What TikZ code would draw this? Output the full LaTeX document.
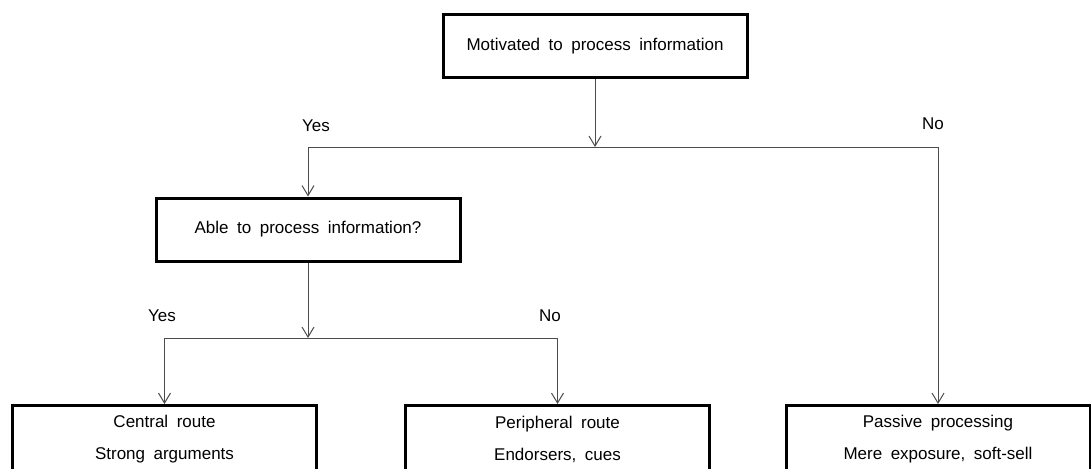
\documentclass[tikz,border=0pt]{standalone}
\usepackage{fontspec}
\setmainfont{Liberation Sans}[WordSpace=1.8]
\usetikzlibrary{arrows.meta}

\begin{document}
\begin{tikzpicture}[x=1pt,y=-1pt]
\tikzstyle{every node}+=[font=\fontsize{17}{32}\selectfont]
\tikzstyle{box}=[draw, line width=3pt, minimum width=304pt, minimum height=63pt, align=center, inner sep=0pt]
\tikzstyle{link}=[draw=black!70, line width=1pt]
\tikzstyle{tip}=[-{Straight Barb[length=10pt,width=12pt]}]
\useasboundingbox (0,0) rectangle (1091,468);
% boxes
\node [box] (motivated) at (595,46) {Motivated to process information};
\node [box] (able) at (308,229.5) {Able to process information?};
\node [box,minimum height=67pt] (central) at (164.5,439) {Central route\\Strong arguments};
\node [box,minimum height=67pt] (peripheral) at (557.5,439) {Peripheral route\\Endorsers, cues};
\node [box,minimum height=67pt] (passive) at (938,439) {Passive processing\\Mere exposure, soft-sell};
% junctions
\coordinate (split1) at (595,147);
\coordinate (yes1) at (308,147);
\coordinate (no1) at (938,147);
\coordinate (split2) at (308,338);
\coordinate (yes2) at (164.5,338);
\coordinate (no2) at (557.5,338);
% connectors
\draw [link,tip] (motivated) -- (split1);
\draw [link] (yes1) -- (no1);
\draw [link,tip] (yes1) -- (able);
\draw [link,tip] (no1) -- (passive);
\draw [link,tip] (able) -- (split2);
\draw [link] (yes2) -- (no2);
\draw [link,tip] (yes2) -- (central);
\draw [link,tip] (no2) -- (peripheral);
% labels
\node (yesa) at (316,126) {Yes};
\node (noa) at (933,124) {No};
\node (yesb) at (162,316) {Yes};
\node (nob) at (550,316) {No};
\end{tikzpicture}
\end{document}
